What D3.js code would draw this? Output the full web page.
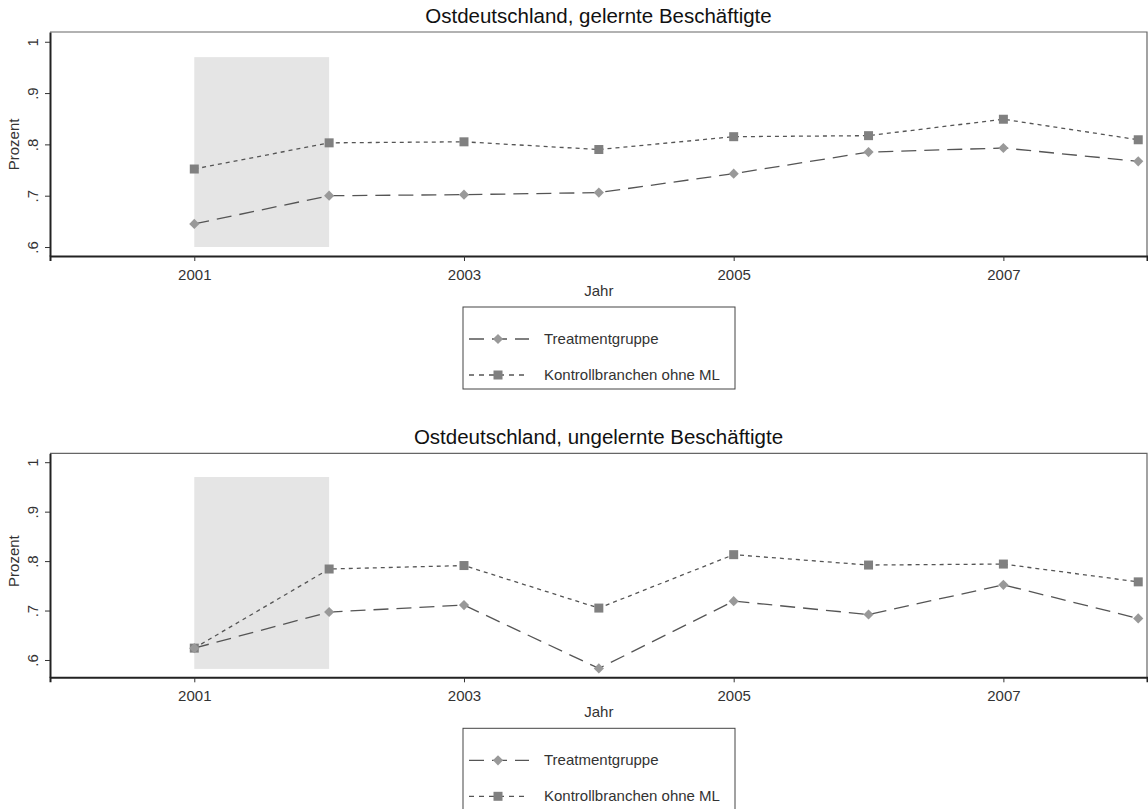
<!DOCTYPE html>
<html>
<head>
<meta charset="utf-8">
<script src="https://cdn.jsdelivr.net/npm/d3@7"></script>
<style>
  body { margin: 0; background: #fff; }
  svg { font-family: "Liberation Sans", Arial, sans-serif; }
</style>
</head>
<body>
<svg id="chart" width="1148" height="809"></svg>
<script>
const years = [2001, 2002, 2003, 2004, 2005, 2006, 2007, 2008];
const xTicks = [2001, 2003, 2005, 2007];
const yTicks = [0.6, 0.7, 0.8, 0.9, 1];
const yTickLabels = [".6", ".7", ".8", ".9", "1"];
const seriesNames = ["Treatmentgruppe", "Kontrollbranchen ohne ML"];

// panel 1: gelernte Beschäftigte
const gelernteTreat = [0.645, 0.700, 0.702, 0.706, 0.743, 0.785, 0.793, 0.767];
const gelernteKontroll = [0.752, 0.803, 0.805, 0.790, 0.815, 0.817, 0.849, 0.809];
// panel 2: ungelernte Beschäftigte
const ungelernteTreat = [0.624, 0.697, 0.711, 0.583, 0.719, 0.692, 0.752, 0.684];
const ungelernteKontroll = [0.624, 0.784, 0.791, 0.705, 0.813, 0.792, 0.794, 0.758];

const svg = d3.select("#chart");

function drawPanel(cfg) {
  const g = svg.append("g").attr("transform", "translate(0," + cfg.top + ")");
  const left = 50, right = 1147, h = 224;

  const x = d3.scaleLinear().domain([1999.93, 2008.065]).range([left, right]);
  const y = d3.scaleLinear().domain(cfg.yDomain).range([h, 0]);

  // shaded period
  g.append("rect")
    .attr("x", x(2001))
    .attr("width", x(2002) - x(2001))
    .attr("y", y(cfg.shade[1]))
    .attr("height", y(cfg.shade[0]) - y(cfg.shade[1]))
    .attr("fill", "#e5e5e5");

  // frame top/right
  g.append("path")
    .attr("d", `M${left},0H${right}V${h}`)
    .attr("fill", "none")
    .attr("stroke", "#666")
    .attr("stroke-width", 1.2);

  // axes
  const xAxis = g.append("g")
    .attr("transform", "translate(0," + h + ")")
    .call(d3.axisBottom(x).tickValues(xTicks).tickFormat(d3.format("d")).tickSize(5));
  xAxis.select(".domain").attr("stroke", "#222").attr("stroke-width", 2);
  xAxis.selectAll(".tick line").attr("stroke", "#333");
  xAxis.selectAll(".tick text")
    .attr("fill", "#333").style("font-size", "15px").attr("dy", "1.05em");

  const yAxis = g.append("g")
    .attr("transform", "translate(" + left + ",0)")
    .call(d3.axisLeft(y).tickValues(yTicks).tickFormat((d, i) => yTickLabels[i]).tickSize(5).tickSizeOuter(0));
  yAxis.select(".domain").attr("stroke", "#222").attr("stroke-width", 2);
  yAxis.selectAll(".tick line").attr("stroke", "#333");
  yAxis.selectAll(".tick text")
    .attr("fill", "#333").style("font-size", "15px")
    .attr("x", 0).attr("dy", 0)
    .attr("text-anchor", "middle")
    .attr("transform", "translate(-12,0) rotate(-90)");

  // lines
  const line = d3.line().x((d, i) => x(years[i])).y(d => y(d));

  g.append("path").datum(cfg.kontroll)
    .attr("d", line).attr("fill", "none")
    .attr("stroke", "#555").attr("stroke-width", 1.3)
    .attr("stroke-dasharray", "4,4");
  g.append("path").datum(cfg.treat)
    .attr("d", line).attr("fill", "none")
    .attr("stroke", "#555").attr("stroke-width", 1.3)
    .attr("stroke-dasharray", "15,8");

  g.selectAll(".sq").data(cfg.kontroll).enter().append("rect")
    .attr("x", (d, i) => x(years[i]) - 4.5)
    .attr("y", d => y(d) - 4.5)
    .attr("width", 9).attr("height", 9)
    .attr("fill", "#808080");
  g.selectAll(".dia").data(cfg.treat).enter().append("path")
    .attr("d", d3.symbol().type(d3.symbolDiamond2).size(66))
    .attr("transform", (d, i) => "translate(" + x(years[i]) + "," + y(d) + ")")
    .attr("fill", "#999");

  // titles
  g.append("text")
    .attr("x", (left + right) / 2).attr("y", -9)
    .attr("text-anchor", "middle")
    .style("font-size", "20.5px").attr("fill", "#111")
    .text(cfg.title);
  g.append("text")
    .attr("x", x(2004)).attr("y", h + 40)
    .attr("text-anchor", "middle")
    .style("font-size", "15px").attr("fill", "#333")
    .text("Jahr");
  g.append("text")
    .attr("transform", "translate(19," + y(0.8) + ") rotate(-90)")
    .attr("text-anchor", "middle")
    .style("font-size", "15px").attr("fill", "#333")
    .text("Prozent");

  // legend
  const lg = g.append("g").attr("transform", "translate(463," + (h + 51) + ")");
  lg.append("rect")
    .attr("width", 272).attr("height", 82)
    .attr("fill", "#fff").attr("stroke", "#444").attr("stroke-width", 1);
  const items = [
    { name: seriesNames[0], dash: "15,8", marker: "diamond", yy: 32 },
    { name: seriesNames[1], dash: "5,5", marker: "square", yy: 68 }
  ];
  items.forEach(it => {
    lg.append("line")
      .attr("x1", 6).attr("x2", 66).attr("y1", it.yy).attr("y2", it.yy)
      .attr("stroke", "#555").attr("stroke-width", 1.3)
      .attr("stroke-dasharray", it.dash);
    if (it.marker === "diamond") {
      lg.append("path")
        .attr("d", d3.symbol().type(d3.symbolDiamond2).size(66))
        .attr("transform", "translate(35," + it.yy + ")")
        .attr("fill", "#999");
    } else {
      lg.append("rect")
        .attr("x", 30.5).attr("y", it.yy - 4.5).attr("width", 9).attr("height", 9)
        .attr("fill", "#808080");
    }
    lg.append("text")
      .attr("x", 81).attr("y", it.yy + 5)
      .style("font-size", "15px").attr("fill", "#333")
      .text(it.name);
  });
}

drawPanel({
  top: 32,
  title: "Ostdeutschland, gelernte Beschäftigte",
  yDomain: [0.5825, 1.019],
  shade: [0.6, 0.97],
  treat: gelernteTreat,
  kontroll: gelernteKontroll
});

drawPanel({
  top: 453.3,
  title: "Ostdeutschland, ungelernte Beschäftigte",
  yDomain: [0.565, 1.018],
  shade: [0.582, 0.97],
  treat: ungelernteTreat,
  kontroll: ungelernteKontroll
});
</script>
</body>
</html>
